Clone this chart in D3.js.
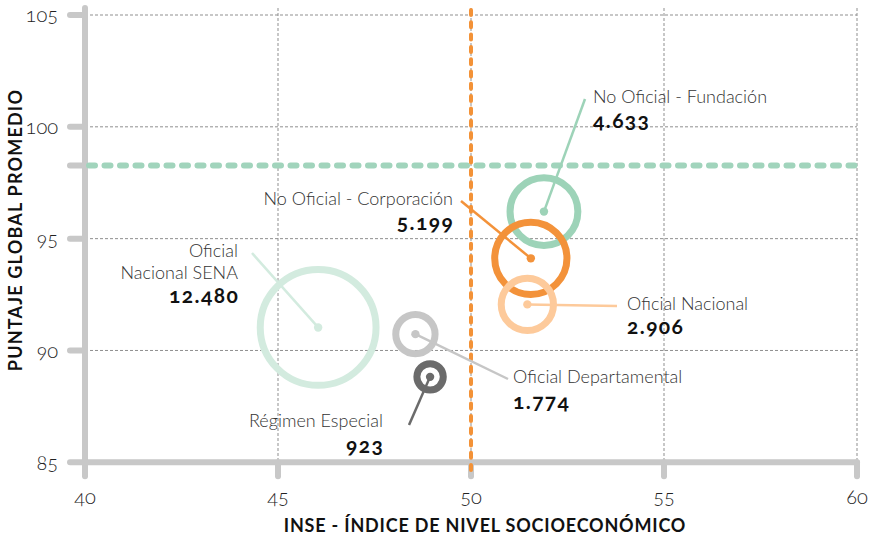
<!DOCTYPE html>
<html>
<head>
<meta charset="utf-8">
<script src="https://cdn.jsdelivr.net/npm/d3@7"></script>
<style>
  html, body { margin: 0; padding: 0; background: #ffffff; }
  svg { display: block; font-family: Lato, "Open Sans", sans-serif; font-variant-numeric: oldstyle-nums; font-feature-settings: "onum" 1; }
</style>
</head>
<body>
<svg id="chart" width="871" height="540"></svg>
<script>
// ---------- data ----------
const categories  = ["Oficial Nacional SENA", "Oficial Departamental", "Régimen Especial", "No Oficial - Fundación", "No Oficial - Corporación", "Oficial Nacional"];
const inse        = [46.04, 48.56, 48.94, 51.89, 51.55, 51.46];
const puntaje     = [91.03, 90.73, 88.82, 96.21, 94.12, 92.06];
const estudiantes = [12480, 1774, 923, 4633, 5199, 2906];
const estudiantesLabels = ["12.480", "1.774", "923", "4.633", "5.199", "2.906"];
const labelLines  = [["Oficial", "Nacional SENA"], ["Oficial Departamental"], ["Régimen Especial"], ["No Oficial - Fundación"], ["No Oficial - Corporación"], ["Oficial Nacional"]];
const xTicks = [40, 45, 50, 55, 60];
const yTicks = [85, 90, 95, 100, 105];
const refINSE = 50;
const refPuntaje = 98.27;
const xTitle = "INSE - ÍNDICE DE NIVEL SOCIOECONÓMICO";
const yTitle = "PUNTAJE GLOBAL PROMEDIO";

// ---------- styles / layout ----------
const colors = ["#d3ebdf", "#c6c6c6", "#6b6b6b", "#9dd3b8", "#f3923a", "#fdca9b"];
const drawOrder = [0, 1, 2, 3, 4, 5];
// label layout: anchor, x, first baseline, line gap, number baseline, leader end point
const labelLayout = [
  {anchor: "end",   x: 238, y: 257, gap: 22, ny: 303, lx: 252, ly: 253},
  {anchor: "start", x: 513, y: 383, gap: 22, ny: 409, lx: 508, ly: 379},
  {anchor: "end",   x: 383, y: 427, gap: 22, ny: 453, lx: 409, ly: 425},
  {anchor: "start", x: 593, y: 103, gap: 22, ny: 128, lx: 585, ly: 99},
  {anchor: "end",   x: 453, y: 205, gap: 22, ny: 230, lx: 461, ly: 201},
  {anchor: "start", x: 627, y: 310, gap: 22, ny: 334, lx: 617, ly: 306}
];

const svg = d3.select("#chart");
const x = d3.scaleLinear().domain([40, 60]).range([85, 857]);
const y = d3.scaleLinear().domain([85, 105]).range([462.3, 15]);
const r = d3.scaleSqrt().domain([0, 12480]).range([0, 61.4]);
const ringWidth = 7;
const axisGray = "#c8c8c8";

// ---------- grid ----------
const grid = svg.append("g");
grid.selectAll("line.vg").data(xTicks.slice(1)).join("line")
  .attr("x1", d => x(d)).attr("x2", d => x(d))
  .attr("y1", 8).attr("y2", y(85))
  .attr("stroke", "#8f8f8f").attr("stroke-width", 1).attr("stroke-dasharray", "3,2");
grid.selectAll("line.hg").data(yTicks.slice(1)).join("line")
  .attr("x1", x(40)).attr("x2", x(60))
  .attr("y1", d => y(d)).attr("y2", d => y(d))
  .attr("stroke", "#8f8f8f").attr("stroke-width", 1).attr("stroke-dasharray", "3,2");

// ---------- axes ----------
const axes = svg.append("g").attr("stroke", axisGray).attr("stroke-width", 6).attr("stroke-linecap", "round");
axes.append("line").attr("x1", x(40)).attr("x2", x(40)).attr("y1", 8).attr("y2", y(85));
axes.append("line").attr("x1", x(40)).attr("x2", x(60)).attr("y1", y(85)).attr("y2", y(85));
axes.selectAll("line.yt").data(yTicks.concat([refPuntaje])).join("line")
  .attr("x1", x(40) - 15).attr("x2", x(40)).attr("y1", d => y(d)).attr("y2", d => y(d));
axes.selectAll("line.xt").data(xTicks).join("line")
  .attr("x1", d => x(d)).attr("x2", d => x(d)).attr("y1", y(85)).attr("y2", y(85) + 14);

// tick labels
svg.append("g").selectAll("text").data(yTicks).join("text")
  .attr("x", 58).attr("y", d => y(d)).attr("dy", "0.36em")
  .attr("text-anchor", "end").attr("font-size", 20).attr("font-weight", 300).attr("fill", "#222")
  .text(d => d);
svg.append("g").selectAll("text").data(xTicks).join("text")
  .attr("x", d => x(d)).attr("y", 504)
  .attr("text-anchor", "middle").attr("font-size", 20).attr("font-weight", 300).attr("fill", "#222")
  .text(d => d);

// axis titles
svg.append("text").attr("x", 485).attr("y", 532).attr("text-anchor", "middle")
  .attr("font-size", 18).attr("font-weight", 700).attr("letter-spacing", 0.8).attr("fill", "#111").text(xTitle);
svg.append("text").attr("transform", "translate(22,230) rotate(-90)").attr("text-anchor", "middle")
  .attr("font-size", 18).attr("font-weight", 700).attr("letter-spacing", 1.2).attr("fill", "#111").text(yTitle);

// ---------- reference lines ----------
svg.append("line").attr("x1", x(40) + 4).attr("x2", x(60)).attr("y1", y(refPuntaje)).attr("y2", y(refPuntaje))
  .attr("stroke", "#a1d4bc").attr("stroke-width", 6).attr("stroke-linecap", "round").attr("stroke-dasharray", "6,9.5");
svg.append("line").attr("x1", x(refINSE)).attr("x2", x(refINSE)).attr("y1", 10).attr("y2", 476)
  .attr("stroke", "#f39237").attr("stroke-width", 4).attr("stroke-linecap", "round").attr("stroke-dasharray", "5,7.3");

// ---------- bubbles ----------
const idx = drawOrder;
svg.append("g").selectAll("circle").data(idx).join("circle")
  .attr("cx", i => x(inse[i])).attr("cy", i => y(puntaje[i]))
  .attr("r", i => r(estudiantes[i]) - ringWidth / 2)
  .attr("fill", "none").attr("stroke", i => colors[i]).attr("stroke-width", ringWidth);

// leaders
svg.append("g").selectAll("line").data(idx).join("line")
  .attr("x1", i => x(inse[i])).attr("y1", i => y(puntaje[i]))
  .attr("x2", i => labelLayout[i].lx).attr("y2", i => labelLayout[i].ly)
  .attr("stroke", i => colors[i]).attr("stroke-width", 2.5);
svg.append("g").selectAll("circle").data(idx).join("circle")
  .attr("cx", i => x(inse[i])).attr("cy", i => y(puntaje[i])).attr("r", 4.2)
  .attr("fill", i => colors[i]);

// labels
const lab = svg.append("g");
idx.forEach(i => {
  const L = labelLayout[i];
  labelLines[i].forEach((t, k) => {
    lab.append("text").attr("x", L.x).attr("y", L.y + k * L.gap).attr("text-anchor", L.anchor)
      .attr("font-size", 18).attr("font-weight", 300).attr("fill", "#333").text(t);
  });
  lab.append("text").attr("x", L.anchor === "end" ? L.x + 1.2 : L.x).attr("y", L.ny).attr("text-anchor", L.anchor)
    .attr("font-size", 21).attr("font-weight", 700).attr("letter-spacing", 1.4).attr("fill", "#111").text(estudiantesLabels[i]);
});
</script>
</body>
</html>
